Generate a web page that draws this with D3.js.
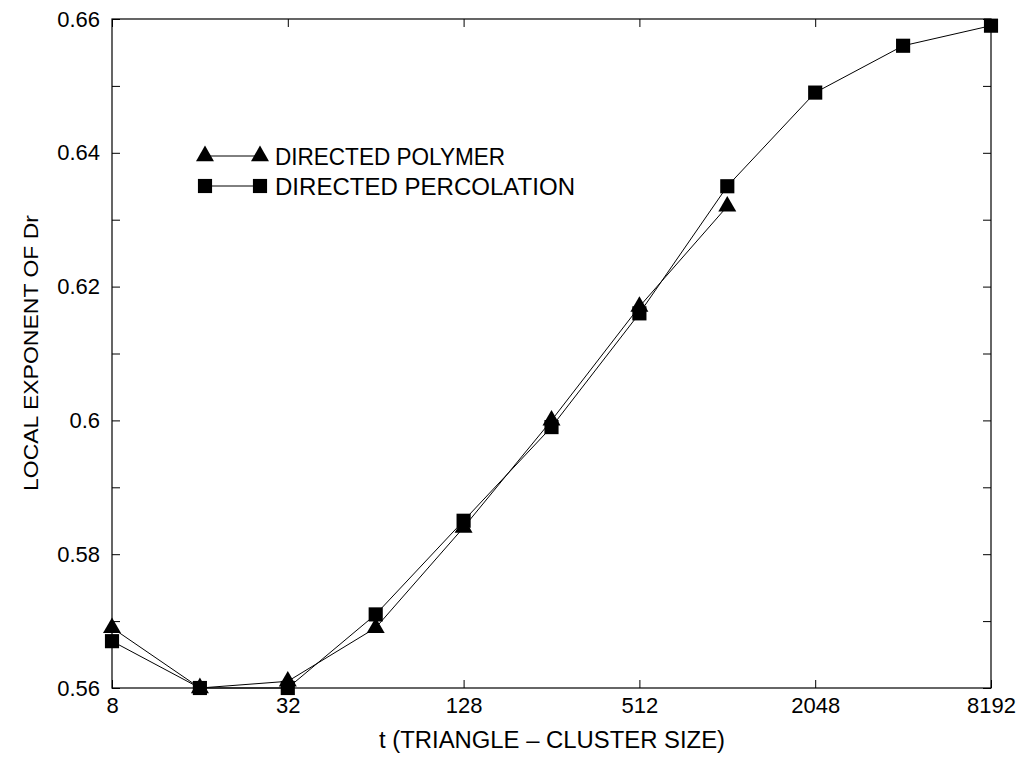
<!DOCTYPE html>
<html>
<head>
<meta charset="utf-8">
<script src="https://cdn.jsdelivr.net/npm/d3@7"></script>
<style>
  html, body { margin: 0; padding: 0; background: #fff; }
  text { font-family: "Liberation Sans", Arial, Helvetica, sans-serif; fill: #000; }
</style>
</head>
<body>
<svg id="chart" width="1026" height="757"></svg>
<script>
// Cluster sizes (powers of two) and local exponent values for the two models
const sizesPolymer = [8, 16, 32, 64, 128, 256, 512, 1024];
const polymer = [0.569, 0.560, 0.561, 0.569, 0.584, 0.600, 0.617, 0.632];

const sizesPercolation = [8, 16, 32, 64, 128, 256, 512, 1024, 2048, 4096, 8192];
const percolation = [0.567, 0.560, 0.560, 0.571, 0.585, 0.599, 0.616, 0.635, 0.649, 0.656, 0.659];

const xTickValues = [8, 32, 128, 512, 2048, 8192];
const yTickValues = [0.56, 0.58, 0.60, 0.62, 0.64, 0.66];
const yMinorTicks = [0.57, 0.59, 0.61, 0.63, 0.65];

const seriesNames = ["DIRECTED POLYMER", "DIRECTED PERCOLATION"];

const svg = d3.select("#chart");
const margin = { left: 112, right: 35, top: 19, bottom: 69 };
const W = 1026, H = 757;
const x0 = margin.left, x1 = W - margin.right;
const y0 = H - margin.bottom, y1 = margin.top;

const x = d3.scaleLog().base(2).domain([8, 8192]).range([x0, x1]);
const y = d3.scaleLinear().domain([0.56, 0.66]).range([y0, y1]);

const fmtY = v => (Math.round(v * 100) / 100).toString();
const tickLen = 8;
const labelSize = 22;

// Axes: ticks point inward on all four sides
const gBottom = svg.append("g").attr("transform", `translate(0,${y0})`)
  .call(d3.axisBottom(x).tickValues(xTickValues).tickFormat(d3.format("d")).tickSize(-tickLen).tickPadding(12));
const gTop = svg.append("g").attr("transform", `translate(0,${y1})`)
  .call(d3.axisTop(x).tickValues(xTickValues).tickFormat("").tickSize(-tickLen));
const gLeft = svg.append("g").attr("transform", `translate(${x0},0)`)
  .call(d3.axisLeft(y).tickValues(yTickValues.concat(yMinorTicks)).tickFormat(v => yTickValues.some(t => Math.abs(t - v) < 1e-9) ? fmtY(v) : "").tickSize(-tickLen).tickPadding(12));
const gRight = svg.append("g").attr("transform", `translate(${x1},0)`)
  .call(d3.axisRight(y).tickValues(yTickValues.concat(yMinorTicks)).tickFormat("").tickSize(-tickLen));

[gBottom, gTop, gLeft, gRight].forEach(g => {
  g.select(".domain").remove();
  g.selectAll("line").attr("stroke", "#000").attr("stroke-width", 1);
  g.attr("font-size", labelSize).attr("font-family", "Liberation Sans, Arial, sans-serif");
  g.selectAll("text").attr("fill", "#000");
});
gBottom.selectAll("text").attr("dy", "0.6em");

// Plot frame
svg.append("rect")
  .attr("x", x0).attr("y", y1)
  .attr("width", x1 - x0).attr("height", y0 - y1)
  .attr("fill", "none").attr("stroke", "#000").attr("stroke-width", 1.2);

// Axis titles
svg.append("text")
  .attr("x", 552).attr("y", 748)
  .attr("text-anchor", "middle").attr("font-size", 23)
  .attr("textLength", 346).attr("lengthAdjust", "spacingAndGlyphs")
  .text("t (TRIANGLE \u2013 CLUSTER SIZE)");

svg.append("text")
  .attr("transform", `translate(38,353) rotate(-90)`)
  .attr("text-anchor", "middle").attr("font-size", 21)
  .attr("textLength", 276).attr("lengthAdjust", "spacingAndGlyphs")
  .text("LOCAL EXPONENT OF Dr");

// Series lines
const line = d3.line().x(d => x(d[0])).y(d => y(d[1]));
const polyPts = sizesPolymer.map((s, i) => [s, polymer[i]]);
const percPts = sizesPercolation.map((s, i) => [s, percolation[i]]);

svg.append("path").datum(polyPts).attr("d", line)
  .attr("fill", "none").attr("stroke", "#000").attr("stroke-width", 1);
svg.append("path").datum(percPts).attr("d", line)
  .attr("fill", "none").attr("stroke", "#000").attr("stroke-width", 1);

const triSym = d3.symbol().type(d3.symbolTriangle).size(140);
const sqSym = d3.symbol().type(d3.symbolSquare).size(200);

svg.append("g").selectAll("path").data(percPts).join("path")
  .attr("d", sqSym)
  .attr("transform", d => `translate(${x(d[0])},${y(d[1])})`)
  .attr("fill", "#000");

svg.append("g").selectAll("path").data(polyPts).join("path")
  .attr("d", triSym)
  .attr("transform", d => `translate(${x(d[0])},${y(d[1])})`)
  .attr("fill", "#000");

// Legend
const legend = svg.append("g");
const legX0 = 205, legX1 = 260, legY = [156, 186];
const legLengths = [230, 300];
[triSym, sqSym].forEach((sym, i) => {
  legend.append("line")
    .attr("x1", legX0).attr("x2", legX1).attr("y1", legY[i]).attr("y2", legY[i])
    .attr("stroke", "#000").attr("stroke-width", 1);
  [legX0, legX1].forEach(px => {
    legend.append("path").attr("d", sym)
      .attr("transform", `translate(${px},${legY[i]})`).attr("fill", "#000");
  });
  legend.append("text")
    .attr("x", 275).attr("y", legY[i]).attr("dy", "0.36em")
    .attr("font-size", 24)
    .attr("textLength", legLengths[i]).attr("lengthAdjust", "spacingAndGlyphs")
    .text(seriesNames[i]);
});
</script>
</body>
</html>
